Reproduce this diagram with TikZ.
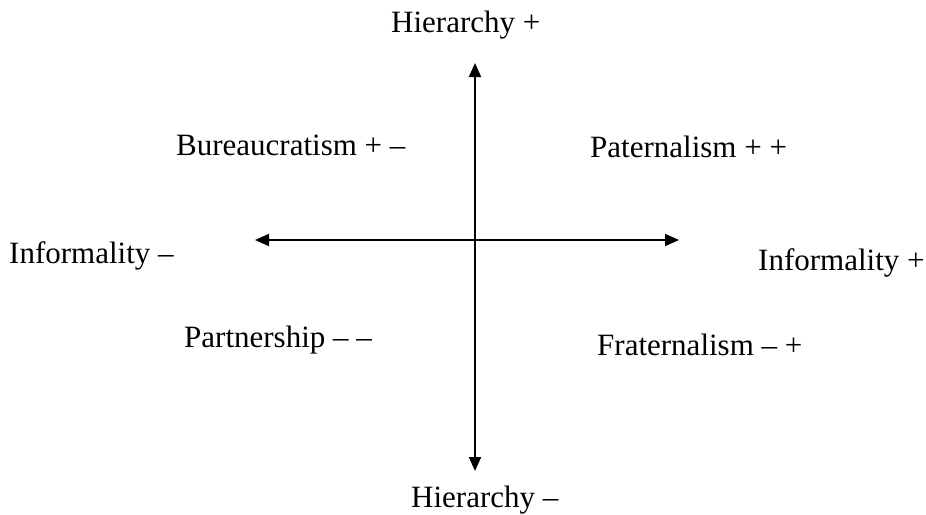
\documentclass[tikz,border=0pt]{standalone}
\usepackage{fontspec}
\setmainfont{Liberation Serif}
\usetikzlibrary{arrows.meta}
\begin{document}
\begin{tikzpicture}[x=1pt,y=-1pt,
  lbl/.style={inner sep=0pt,anchor=base west,font=\fontsize{31}{36}\selectfont},
  axis/.style={line width=2pt,{Triangle[length=14pt,width=12pt]}-{Triangle[length=14pt,width=12pt]}}]
\useasboundingbox (0,0) rectangle (926,514);
\coordinate (top) at (475,63);
\coordinate (bot) at (475,471);
\coordinate (lft) at (255,240);
\coordinate (rgt) at (679,240);
\draw[axis] (top) -- (bot);
\draw[axis] (lft) -- (rgt);
\node[lbl] (hp) at (391,32) {Hierarchy +};
\node[lbl] (hm) at (411,507) {Hierarchy –};
\node[lbl] (im) at (9,263) {Informality –};
\node[lbl] (ip) at (758,270) {Informality +};
\node[lbl] (bu) at (176,155) {Bureaucratism + –};
\node[lbl] (pa) at (590,157) {Paternalism + +};
\node[lbl] (pt) at (184,347) {Partnership – –};
\node[lbl] (fr) at (597,355) {Fraternalism – +};
\end{tikzpicture}
\end{document}
